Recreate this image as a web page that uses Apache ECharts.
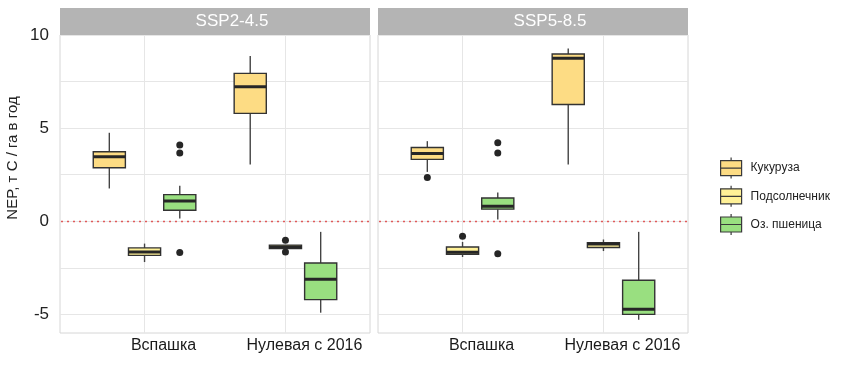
<!DOCTYPE html>
<html>
<head>
<meta charset="utf-8">
<script src="https://cdn.jsdelivr.net/npm/echarts@6/dist/echarts.min.js"></script>
<style>html,body{margin:0;padding:0;background:#fff}#c{width:844px;height:390px}</style>
</head>
<body>
<div id="c"></div>
<script>
// ---- data ----
const categories = ['Вспашка', 'Нулевая с 2016'];
const crops = ['Кукуруза', 'Подсолнечник', 'Оз. пшеница'];
const scenarios = ['SSP2-4.5', 'SSP5-8.5'];
const yTicks = [-5, 0, 5, 10];
const yMinorTicks = [-5, -2.5, 0, 2.5, 5, 7.5, 10];
const refLine = [0];

// [min, Q1, median, Q3, max] per category
const ssp245Corn      = [[1.76, 2.87, 3.46, 3.73, 4.75], [3.05, 5.79, 7.22, 7.94, 8.87]];
const ssp245Sunflower = [[-2.19, -1.83, -1.65, -1.43, -1.20], [-1.47, -1.47, -1.38, -1.28, -1.28]];
const ssp245Wheat     = [[0.15, 0.59, 1.09, 1.43, 1.90], [-4.91, -4.21, -3.12, -2.24, -0.57]];
const ssp585Corn      = [[2.65, 3.32, 3.64, 3.96, 4.30], [3.05, 6.27, 8.75, 8.98, 9.28]];
const ssp585Sunflower = [[-1.92, -1.77, -1.66, -1.38, -1.11], [-1.60, -1.41, -1.22, -1.15, -0.98]];
const ssp585Wheat     = [[0.09, 0.65, 0.81, 1.25, 1.54], [-5.29, -5.00, -4.73, -3.17, -0.57]];

// outliers per category
const ssp245CornOut      = [[], []];
const ssp245SunflowerOut = [[], [-1.02, -1.65]];
const ssp245WheatOut     = [[4.09, 3.67, -1.68], []];
const ssp585CornOut      = [[2.35], []];
const ssp585SunflowerOut = [[-0.81], []];
const ssp585WheatOut     = [[4.21, 3.67, -1.74], []];

// ---- styling ----
const cropColors = ['#FDDC84', '#FFF197', '#99DF80'];
const REF_COLOR = '#e05a5a';
const FONT = 'Liberation Sans, Arial, sans-serif';
const DODGE = 0.25;
const BOX_W = 0.228;

const boxData = [
  [ssp245Corn, ssp245Sunflower, ssp245Wheat],
  [ssp585Corn, ssp585Sunflower, ssp585Wheat]
];
const outData = [
  [ssp245CornOut, ssp245SunflowerOut, ssp245WheatOut],
  [ssp585CornOut, ssp585SunflowerOut, ssp585WheatOut]
];

function renderBox(params, api) {
  const x = api.value(0);
  const lo = api.coord([x, api.value(1)]);
  const q1 = api.coord([x, api.value(2)]);
  const md = api.coord([x, api.value(3)]);
  const q3 = api.coord([x, api.value(4)]);
  const hi = api.coord([x, api.value(5)]);
  const w = api.size([BOX_W, 0])[0];
  const fill = api.visual('color');
  const h = Math.max(q1[1] - q3[1], 0.5);
  return {
    type: 'group',
    children: [
      { type: 'line', shape: { x1: hi[0], y1: hi[1], x2: q3[0], y2: q3[1] }, style: { stroke: '#444', lineWidth: 1.4 } },
      { type: 'line', shape: { x1: q1[0], y1: q1[1], x2: lo[0], y2: lo[1] }, style: { stroke: '#444', lineWidth: 1.4 } },
      { type: 'rect', shape: { x: q3[0] - w / 2, y: q3[1], width: w, height: h }, style: { fill: fill, stroke: '#333', lineWidth: 1.4 } },
      { type: 'line', shape: { x1: md[0] - w / 2, y1: md[1], x2: md[0] + w / 2, y2: md[1] }, style: { stroke: '#262626', lineWidth: 3 } }
    ]
  };
}

function renderRef(params, api) {
  const cs = params.coordSys;
  const y = Math.round(api.coord([1, api.value(1)])[1]) + 0.5;
  return {
    type: 'line',
    shape: { x1: cs.x + 1, y1: y, x2: cs.x + cs.width, y2: y },
    style: { stroke: REF_COLOR, lineWidth: 1.5, lineDash: [2, 4] }
  };
}

const gridLefts = [60, 378];
const PANEL_W = 310;
const grids = gridLefts.map(l => ({
  left: l, width: PANEL_W, top: 35, bottom: 57,
  show: true, borderColor: '#d6d6d6', borderWidth: 1, backgroundColor: '#fff'
}));

const xAxes = scenarios.map((s, i) => ({
  type: 'value', gridIndex: i, min: 0.4, max: 2.6,
  axisLine: { show: false, onZero: false },
  axisTick: { show: false, customValues: [1, 2] },
  axisLabel: {
    customValues: [1, 2], fontFamily: FONT, fontSize: 16, color: '#1a1a1a', margin: 5,
    padding: [0, 0, 0, 38],
    formatter: v => categories[Math.round(v) - 1]
  },
  splitLine: { show: true, lineStyle: { color: '#e6e6e6', width: 1 } }
}));

const yAxes = scenarios.map((s, i) => ({
  type: 'value', gridIndex: i, min: -6, max: 10,
  name: i === 0 ? 'NEP, т С / га в год' : '',
  nameLocation: 'middle', nameGap: 40,
  nameTextStyle: { fontFamily: FONT, fontSize: 15, color: '#222', padding: [0, 0, 0, 52] },
  axisLine: { show: false, onZero: false },
  axisTick: { show: false, customValues: yMinorTicks },
  axisLabel: { show: i === 0, customValues: yTicks, fontFamily: FONT, fontSize: 17, color: '#222', margin: 11 },
  splitLine: { show: true, lineStyle: { color: '#e6e6e6', width: 1 } }
}));

const series = [];
scenarios.forEach((s, p) => {
  // dotted reference line at zero
  series.push({
    type: 'custom', name: 'ref' + p, xAxisIndex: p, yAxisIndex: p,
    renderItem: renderRef, silent: true, z: 2,
    encode: { x: 0, y: 1 },
    data: refLine.map(v => [1, v])
  });
  crops.forEach((crop, k) => {
    const data = boxData[p][k].map((b, c) => [c + 1 + (k - 1) * DODGE].concat(b));
    series.push({
      type: 'custom', name: crop, xAxisIndex: p, yAxisIndex: p,
      itemStyle: { color: cropColors[k] },
      renderItem: renderBox,
      encode: { x: 0, y: [1, 2, 3, 4, 5] },
      data: data, z: 3
    });
  });
  const pts = [];
  crops.forEach((crop, k) => {
    outData[p][k].forEach((vals, c) => vals.forEach(v => pts.push([c + 1 + (k - 1) * DODGE, v])));
  });
  series.push({
    type: 'scatter', name: 'outliers' + p, xAxisIndex: p, yAxisIndex: p,
    symbolSize: 7, itemStyle: { color: '#262626', opacity: 1 }, data: pts, z: 4
  });
});

const graphics = [];
scenarios.forEach((s, i) => {
  graphics.push({
    type: 'rect', left: gridLefts[i], top: 8, z: 10,
    shape: { width: PANEL_W, height: 27 }, style: { fill: '#b4b4b4' }
  });
  graphics.push({
    type: 'text', x: gridLefts[i] + PANEL_W / 2 + 17, y: 21.5, z: 11,
    style: { text: s, fill: '#ffffff', font: '17px ' + FONT, align: 'center', verticalAlign: 'middle' }
  });
});

const option = {
  animation: false,
  backgroundColor: '#fff',
  grid: grids,
  xAxis: xAxes,
  yAxis: yAxes,
  legend: {
    orient: 'vertical', left: 715, top: 152, itemWidth: 23, itemHeight: 21, itemGap: 6,
    textStyle: { fontFamily: FONT, fontSize: 12, color: '#222', padding: [0, 0, 0, 3] },
    data: crops.map((c, k) => ({
      name: c,
      icon: 'path://M1,3H22V18H1Z M1,10.5H22 M11.5,0V3 M11.5,18V21',
      itemStyle: { color: cropColors[k], borderColor: '#3a3a3a', borderWidth: 1.2 }
    }))
  },
  graphic: graphics,
  series: series
};

echarts.init(document.getElementById('c'), null, { renderer: 'canvas' }).setOption(option);
</script>
</body>
</html>
